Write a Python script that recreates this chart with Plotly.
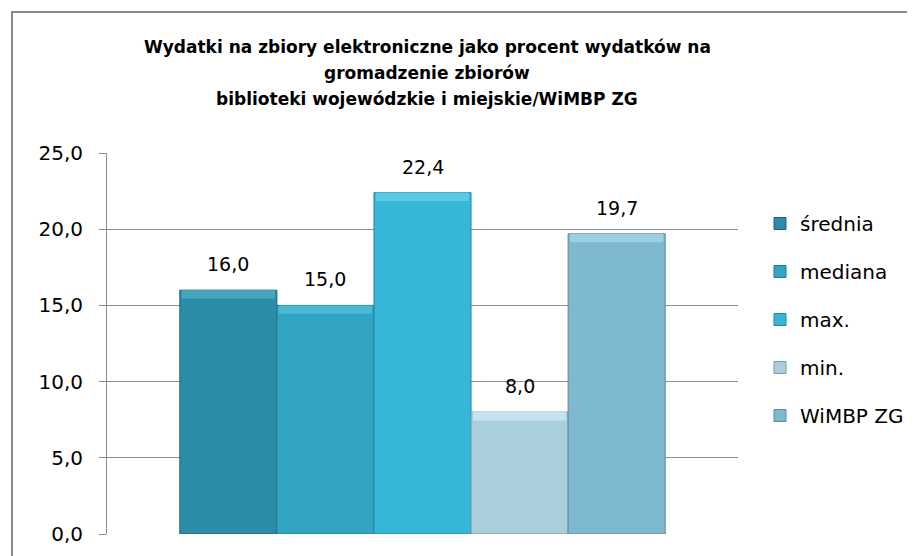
import plotly.graph_objects as go

# Data
series = ["średnia", "mediana", "max.", "min.", "WiMBP ZG"]
values = [16.0, 15.0, 22.4, 8.0, 19.7]
colors = ["#2B8CA8", "#31A5C3", "#37B7D7", "#A9CEDC", "#7FB9CF"]
top_colors = ["#45A6BF", "#4DBAD5", "#5ACBE6", "#C4E3EE", "#9BD0E3"]
edge_colors = ["#1E6479", "#23788F", "#27879F", "#7E9BA6", "#5B8A9B"]
title_lines = [
    "Wydatki na zbiory elektroniczne jako procent wydatków na",
    "gromadzenie zbiorów",
    "biblioteki wojewódzkie i miejskie/WiMBP ZG",
]
y_ticks = [0, 5, 10, 15, 20, 25]

FONT = "DejaVu Sans"
GRID = "#8E8E8E"
BODY = 8  # browser body margin
W, H = 915 - BODY, 556 - BODY
# plot box in screen pixels: x 107..738, y 153..534
ML, MT = 107 - BODY, 153 - BODY
MR, MB = W - (738 - BODY), H - (534 - BODY)
PW, PH = W - ML - MR, H - MT - MB
BEVEL = 0.55  # top highlight height in data units


def sx(px):
    return (px - BODY - ML) / PW


def sy(py):
    return (H - MB - (py - BODY)) / PH


fig = go.Figure()
for i, (name, v) in enumerate(zip(series, values)):
    fig.add_trace(go.Bar(
        x=[i], y=[v], name=name, width=1,
        marker=dict(color=colors[i], line=dict(color=edge_colors[i], width=1)),
        legendgroup=name,
        hovertemplate=f"{name}: %{{y:.1f}}<extra></extra>",
    ))
    # lighter bevel strip on top of each bar
    fig.add_trace(go.Bar(
        x=[i], y=[BEVEL], base=[v - BEVEL], width=0.96,
        marker=dict(color=top_colors[i], line=dict(width=0)),
        showlegend=False, hoverinfo="skip", legendgroup=name,
    ))
    fig.add_annotation(
        x=i, y=v, text=f"{v:.1f}".replace(".", ","), showarrow=False,
        yanchor="bottom", yshift=13, font=dict(family=FONT, size=19, color="#000"),
    )

# title, three centred lines
for line, ypix in zip(title_lines, [47, 73, 99]):
    fig.add_annotation(
        xref="paper", yref="paper", x=sx(427), y=sy(ypix),
        text=f"<b>{line}</b>", showarrow=False, xanchor="center", yanchor="middle",
        font=dict(family=FONT, size=17, color="#000"),
    )

# outer chart frame (runs off the right and bottom edge like the reference)
fig.add_shape(
    type="rect", xref="paper", yref="paper",
    x0=sx(12), x1=sx(940), y0=sy(580), y1=sy(12),
    line=dict(color="#8A8A8A", width=2), fillcolor="rgba(0,0,0,0)", layer="below",
)

fig.update_layout(
    width=W, height=H,
    margin=dict(l=ML, r=MR, t=MT, b=MB, autoexpand=False),
    paper_bgcolor="white", plot_bgcolor="white",
    separators=", ",
    barmode="overlay",
    showlegend=True,
    legend=dict(
        x=sx(760), y=sy(204), xanchor="left", yanchor="top",
        font=dict(family=FONT, size=20, color="#000"),
        traceorder="grouped", tracegroupgap=19, itemwidth=30,
        bgcolor="rgba(0,0,0,0)",
    ),
    xaxis=dict(range=[-1.25, 5.25], showticklabels=False, showgrid=False,
               zeroline=False, showline=False, ticks="", fixedrange=True),
    yaxis=dict(range=[0, 25], tickvals=y_ticks, tickformat=".1f",
               showgrid=True, gridcolor=GRID, gridwidth=1,
               zeroline=False, showline=True, linecolor=GRID, linewidth=1,
               ticks="outside", ticklen=7, tickcolor=GRID,
               ticklabelstandoff=12,
               tickfont=dict(family=FONT, size=20, color="#000")),
)

fig.write_html("out.html")
